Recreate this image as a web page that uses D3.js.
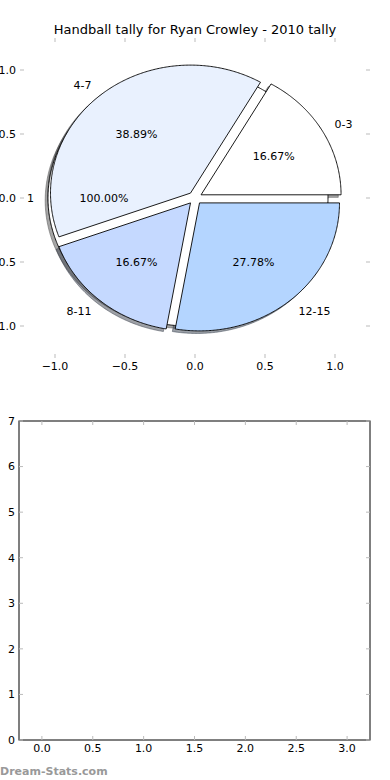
<!DOCTYPE html>
<html><head><meta charset="utf-8">
<script src="https://cdn.jsdelivr.net/npm/d3@7"></script>
<style>
body{margin:0;background:#fff;}
svg{display:block;font-family:"DejaVu Sans",sans-serif;}
</style></head>
<body>
<svg id="c" width="390" height="780"></svg>
<script>
const title = "Handball tally for Ryan Crowley - 2010 tally";
const categories = ["0-3","4-7","8-11","12-15"];
const values = [3,7,3,5];
const colors = ["#ffffff","#e9f1fe","#c5d9ff","#b4d5ff"];
const extraLabels = ["1"];
const extraValues = [1];
const extraColors = ["#ffffff"];
const pieTicks = [-1.0,-0.5,0.0,0.5,1.0];
const barXTicks = [0.0,0.5,1.0,1.5,2.0,2.5,3.0];
const barYTicks = [0,1,2,3,4,5,6,7];

const svg = d3.select("#c");
const fmtTick = d => (d<0?"\u2212":"") + Math.abs(d).toFixed(1);

// ---------- Pie axes ----------
const px = d3.scaleLinear().domain([-1.25,1.25]).range([20,370]);
const py = d3.scaleLinear().domain([-1.25,1.25]).range([358,38]);
const explode = 0.05, R = 1, shOff = -0.02;

function wedgePath(cx, cy, a0, a1){
  const n = Math.max(2, Math.ceil((a1-a0)/0.01));
  const pts = [];
  const full = (a1-a0) >= 2*Math.PI - 1e-9;
  if(!full) pts.push([cx,cy]);
  for(let i=0;i<=n;i++){
    const a = a0 + (a1-a0)*i/n;
    pts.push([cx+R*Math.cos(a), cy+R*Math.sin(a)]);
  }
  return d3.line().x(d=>px(d[0])).y(d=>py(d[1]))(pts) + "Z";
}
function buildPie(vals, labs, cols){
  const tot = d3.sum(vals);
  let a = 0;
  return vals.map((v,i)=>{
    const a0 = a, a1 = a + 2*Math.PI*v/tot; a = a1;
    const m = (a0+a1)/2;
    const cx = explode*Math.cos(m), cy = explode*Math.sin(m);
    return {a0,a1,m,cx,cy,label:labs[i],color:cols[i],pct:(100*v/tot).toFixed(2)+"%"};
  });
}
const pieA = buildPie(extraValues, extraLabels, extraColors);
const pieB = buildPie(values, categories, colors);
const allW = pieA.concat(pieB);

const gPie = svg.append("g");
function shadowColor(c){ const r=d3.rgb(c); return `rgb(${r.r*0.3},${r.g*0.3},${r.b*0.3})`; }
// shadows
gPie.selectAll("path.sh").data(allW).enter().append("path").attr("class","sh")
  .attr("d",d=>wedgePath(d.cx+shOff,d.cy+shOff,d.a0,d.a1))
  .attr("fill",d=>shadowColor(d.color)).attr("stroke",d=>shadowColor(d.color))
  .attr("fill-opacity",0.5).attr("stroke-opacity",0.5).attr("stroke-width",1);
// wedges
gPie.selectAll("path.w").data(allW).enter().append("path").attr("class","w")
  .attr("d",d=>wedgePath(d.cx,d.cy,d.a0,d.a1))
  .attr("fill",d=>d.color).attr("stroke","#000").attr("stroke-width",0.9)
  .attr("stroke-linejoin","miter");
// labels
gPie.selectAll("text.lab").data(allW).enter().append("text").attr("class","lab")
  .attr("x",d=>px(d.cx+1.1*Math.cos(d.m)))
  .attr("y",d=>py(d.cy+1.1*Math.sin(d.m)))
  .attr("dy","0.35em").attr("font-size",11)
  .attr("text-anchor",d=>Math.cos(d.m)>0?"start":"end")
  .text(d=>d.label);
gPie.selectAll("text.pct").data(allW).enter().append("text").attr("class","pct")
  .attr("x",d=>px(d.cx+0.6*Math.cos(d.m)))
  .attr("y",d=>py(d.cy+0.6*Math.sin(d.m)))
  .attr("dy","0.35em").attr("font-size",11).attr("text-anchor","middle")
  .text(d=>d.pct);

// pie axis ticks (no spines)
const tickCol = "#bbbbbb";
const gpt = svg.append("g");
pieTicks.forEach(t=>{
  gpt.append("line").attr("x1",px(t)).attr("x2",px(t)).attr("y1",py.range()[0]).attr("y2",py.range()[0]-4).attr("stroke",tickCol);
  gpt.append("line").attr("x1",px(t)).attr("x2",px(t)).attr("y1",py.range()[1]).attr("y2",py.range()[1]+4).attr("stroke",tickCol);
  gpt.append("line").attr("y1",py(t)).attr("y2",py(t)).attr("x1",px.range()[0]).attr("x2",px.range()[0]+4).attr("stroke",tickCol);
  gpt.append("line").attr("y1",py(t)).attr("y2",py(t)).attr("x1",px.range()[1]).attr("x2",px.range()[1]-4).attr("stroke",tickCol);
  gpt.append("text").attr("x",px(t)).attr("y",py.range()[0]+12).attr("text-anchor","middle").attr("font-size",11).text(fmtTick(t));
  gpt.append("text").attr("x",px.range()[0]-4).attr("y",py(t)).attr("dy","0.35em").attr("text-anchor","end").attr("font-size",11).text(fmtTick(t));
});
svg.append("text").attr("x",195).attr("y",34).attr("text-anchor","middle").attr("font-size",13).text(title);

// ---------- Bar axes (empty) ----------
const bx = d3.scaleLinear().domain([-0.225,3.225]).range([19,370]);
const by = d3.scaleLinear().domain([0,7]).range([740,421]);
const gb = svg.append("g");
gb.append("rect").attr("x",bx.range()[0]).attr("y",by.range()[1])
  .attr("width",bx.range()[1]-bx.range()[0]).attr("height",by.range()[0]-by.range()[1])
  .attr("fill","none").attr("stroke","#000").attr("stroke-width",1);
barXTicks.forEach(t=>{
  gb.append("line").attr("x1",bx(t)).attr("x2",bx(t)).attr("y1",740).attr("y2",736).attr("stroke",tickCol);
  gb.append("line").attr("x1",bx(t)).attr("x2",bx(t)).attr("y1",421).attr("y2",425).attr("stroke",tickCol);
  gb.append("text").attr("x",bx(t)).attr("y",752).attr("text-anchor","middle").attr("font-size",11).text(fmtTick(t));
});
barYTicks.forEach(t=>{
  gb.append("line").attr("y1",by(t)).attr("y2",by(t)).attr("x1",19).attr("x2",23).attr("stroke",tickCol);
  gb.append("line").attr("y1",by(t)).attr("y2",by(t)).attr("x1",370).attr("x2",366).attr("stroke",tickCol);
  gb.append("text").attr("x",15).attr("y",by(t)).attr("dy","0.35em").attr("text-anchor","end").attr("font-size",11).text(t);
});
svg.append("text").attr("x",0).attr("y",775).attr("font-size",11).attr("font-weight","bold")
  .attr("fill","#999").text("Dream-Stats.com");
</script>
</body></html>
